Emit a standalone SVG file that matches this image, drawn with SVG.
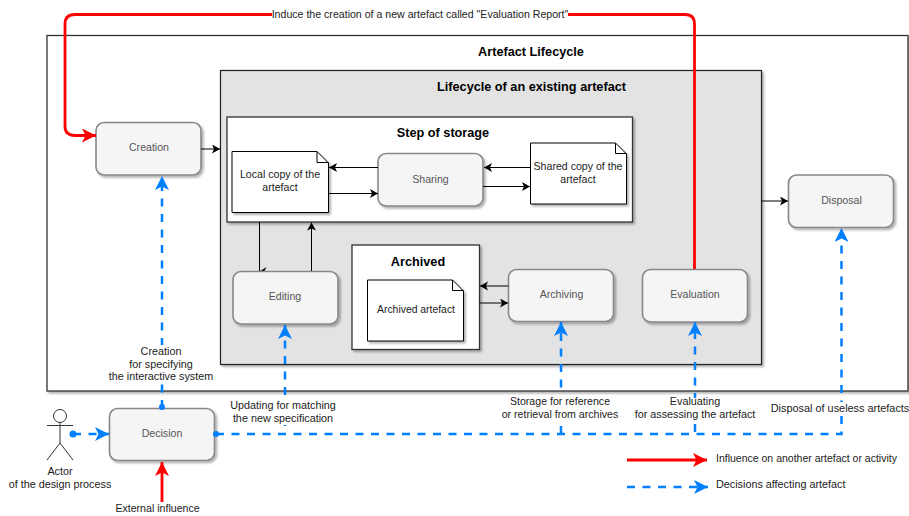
<svg xmlns="http://www.w3.org/2000/svg" width="909" height="516" viewBox="0 0 909 516">
<style>
text{font-family:"Liberation Sans",Arial,sans-serif;font-size:10.6px;fill:#222;text-anchor:middle}
.w{font-size:10.8px}
.t{font-weight:bold;font-size:12.7px;fill:#000}
.p rect{fill:#f5f5f5;stroke:#888;stroke-width:1.6}
.p text{fill:#555}
.box{fill:#fff;stroke:#333;stroke-width:1.3}
.doc{fill:#fff;stroke:#000;stroke-width:1}
.fold{fill:none;stroke:#000;stroke-width:1}
.k{fill:none;stroke:#000;stroke-width:1}
.b{fill:none;stroke:#007fff;stroke-width:2.5;stroke-dasharray:8 7.5}
.r{fill:none;stroke:#f00;stroke-width:2.8}
.bg{fill:#fff}
.l{text-anchor:start}
</style>
<defs>
<filter id="s" x="-10%" y="-10%" width="120%" height="120%"><feDropShadow dx="2" dy="2" stdDeviation="0.8" flood-color="#000" flood-opacity="0.3"/></filter>
<marker id="ak" markerUnits="userSpaceOnUse" markerWidth="10" markerHeight="10" refX="8" refY="4.500" orient="auto"><path d="M0 0L8 4.500L0 9L2 4.500Z" fill="#000"/></marker>
<marker id="ab" markerUnits="userSpaceOnUse" markerWidth="17" markerHeight="17" refX="14" refY="7" orient="auto"><path d="M0 0L14 7L0 14L3.500 7Z" fill="#007fff"/></marker>
<marker id="ar" markerUnits="userSpaceOnUse" markerWidth="17" markerHeight="17" refX="14" refY="7" orient="auto"><path d="M0 0L14 7L0 14L3.500 7Z" fill="#f00"/></marker>
</defs>
<rect width="909" height="516" fill="#fff"/>
<g id="lifecycle-outer"><rect x="47" y="35.500" width="861" height="355.500" class="box" filter="url(#s)"/><text class="t" x="531" y="56">Artefact Lifecycle</text></g>
<g id="lifecycle-existing"><rect x="220.500" y="70.500" width="541" height="294" fill="#e3e3e3" stroke="#222" stroke-width="1.2" filter="url(#s)"/><text class="t" x="531.500" y="91">Lifecycle of an existing artefact</text></g>
<g id="storage"><rect x="227" y="117" width="405.500" height="105" class="box" filter="url(#s)"/><text class="t" x="443" y="137">Step of storage</text></g>
<g id="archived"><rect x="352" y="245" width="127.500" height="104.500" class="box" filter="url(#s)"/><text class="t" x="418" y="265.500">Archived</text></g>
<g id="connectors-inner">
<path class="k" d="M259.500 222V271"/>
<path d="M259.500 271.500L266.500 267L264 272Z" fill="#000"/>
</g>
<g id="creation" class="p"><rect x="96" y="122.500" width="105" height="52.500" rx="8" filter="url(#s)"/><text x="149" y="151">Creation</text></g>
<g id="sharing" class="p"><rect x="378" y="153.500" width="105" height="52.500" rx="8" filter="url(#s)"/><text x="430.500" y="183">Sharing</text></g>
<g id="editing" class="p"><rect x="233" y="271.500" width="105" height="52.500" rx="8" filter="url(#s)"/><text x="285" y="300">Editing</text></g>
<g id="archiving" class="p"><rect x="508.500" y="269.500" width="105" height="52" rx="8" filter="url(#s)"/><text x="561.500" y="298">Archiving</text></g>
<g id="evaluation" class="p"><rect x="642.500" y="269.500" width="105" height="52.500" rx="8" filter="url(#s)"/><text x="695" y="298">Evaluation</text></g>
<g id="disposal" class="p"><rect x="788.500" y="175" width="105" height="52.500" rx="8" filter="url(#s)"/><text x="841.500" y="204">Disposal</text></g>
<g id="decision" class="p"><rect x="109.500" y="408.500" width="105" height="52" rx="8" filter="url(#s)"/><text x="162" y="437">Decision</text></g>
<g id="local-copy"><path d="M232 151.500H317L328.500 163V212.500H232Z" class="doc" filter="url(#s)"/><path d="M317 151.500V162.500H328.500" class="fold"/><text x="280" y="178">Local copy of the</text><text x="280" y="191">artefact</text></g>
<g id="shared-copy"><path d="M530.500 143H615.500L626.500 154V204H530.500Z" class="doc" filter="url(#s)"/><path d="M615.500 143V153.500H626.500" class="fold"/><text x="578" y="169.500">Shared copy of the</text><text x="578" y="182.500">artefact</text></g>
<g id="archived-artefact"><path d="M367.500 280H452.500L463.500 291V341H367.500Z" class="doc" filter="url(#s)"/><path d="M452.500 280V290.500H463.500" class="fold"/><text x="416" y="312.500" style="font-size:10.4px">Archived artefact</text></g>
<g id="actor" fill="none" stroke="#333" stroke-width="1"><circle cx="60" cy="416" r="6.500"/><path d="M60 422.500V443M47 425.500H73M60 443L47 460M60 443L73 460"/><text class="w" x="60" y="475" stroke="none">Actor</text><text class="w" x="60" y="488" stroke="none">of the design process</text></g>
<g id="connectors">
<path class="k" marker-end="url(#ak)" d="M201 149H220"/>
<path class="k" marker-end="url(#ak)" d="M378 167.500H329"/>
<path class="k" marker-end="url(#ak)" d="M329 193.500H378"/>
<path class="k" marker-end="url(#ak)" d="M530.500 167.500H484"/>
<path class="k" marker-end="url(#ak)" d="M483 186.500H530"/>
<path class="k" marker-end="url(#ak)" d="M311.500 271V222.500"/>
<path class="k" marker-end="url(#ak)" d="M508.500 286H480"/>
<path class="k" marker-end="url(#ak)" d="M479.500 303H508"/>
<path class="k" marker-end="url(#ak)" d="M761.500 201H788"/>
<path class="r" marker-end="url(#ar)" d="M694.500 269V24Q694.500 14.500 685 14.500H75Q65 14.500 65 24V126Q65 135.500 75 135.500H96"/>
<rect class="bg" x="272" y="8" width="296" height="13"/>
<text x="420" y="18">Induce the creation of a new artefact called "Evaluation Report"</text>
<path class="r" marker-end="url(#ar)" d="M162 502V462"/>
<path class="b" marker-end="url(#ab)" d="M162 408V176"/>
<circle cx="162" cy="407" r="3" fill="#007fff"/>
<rect class="bg" x="108" y="345" width="108" height="38"/>
<text class="w" x="161" y="355">Creation</text><text class="w" x="161" y="368">for specifying</text><text class="w" x="161" y="380">the interactive system</text>
<path class="b" d="M216 434H841.500V228" marker-end="url(#ab)"/>
<path class="b" d="M285 426V325" marker-end="url(#ab)"/>
<path class="b" d="M561 434V322" marker-end="url(#ab)"/>
<path class="b" d="M695 432V322" marker-end="url(#ab)"/>
<circle cx="216" cy="434" r="3" fill="#007fff"/>
<rect class="bg" x="229" y="399" width="109" height="26"/>
<rect class="bg" x="509" y="395" width="111" height="27"/>
<rect class="bg" x="633" y="398" width="126" height="24"/>
<rect class="bg" x="769" y="402" width="140" height="13"/>
<text class="w" x="283" y="408.500">Updating for matching</text><text class="w" x="283" y="421.500">the new specification</text>
<text x="560" y="404.500">Storage for reference</text><text x="560" y="417.500">or retrieval from archives</text>
<text class="w" x="695" y="404.500">Evaluating</text><text class="w" x="695" y="417.500">for assessing the artefact</text>
<text class="w" x="840" y="411.500" style="font-size:10.9px">Disposal of useless artefacts</text>
<path class="b" marker-end="url(#ab)" d="M73 434H109"/>
<circle cx="73" cy="434" r="3.500" fill="#007fff"/>
<text x="157.500" y="511.500">External influence</text>
<path class="r" marker-end="url(#ar)" d="M627 460H707"/>
<path class="b" marker-end="url(#ab)" d="M627 487H708"/>
</g>
<g id="legend"><text class="l" x="716" y="462" style="font-size:10.5px">Influence on another artefact or activity</text><text class="l w" x="716" y="488">Decisions affecting artefact</text></g>
</svg>
